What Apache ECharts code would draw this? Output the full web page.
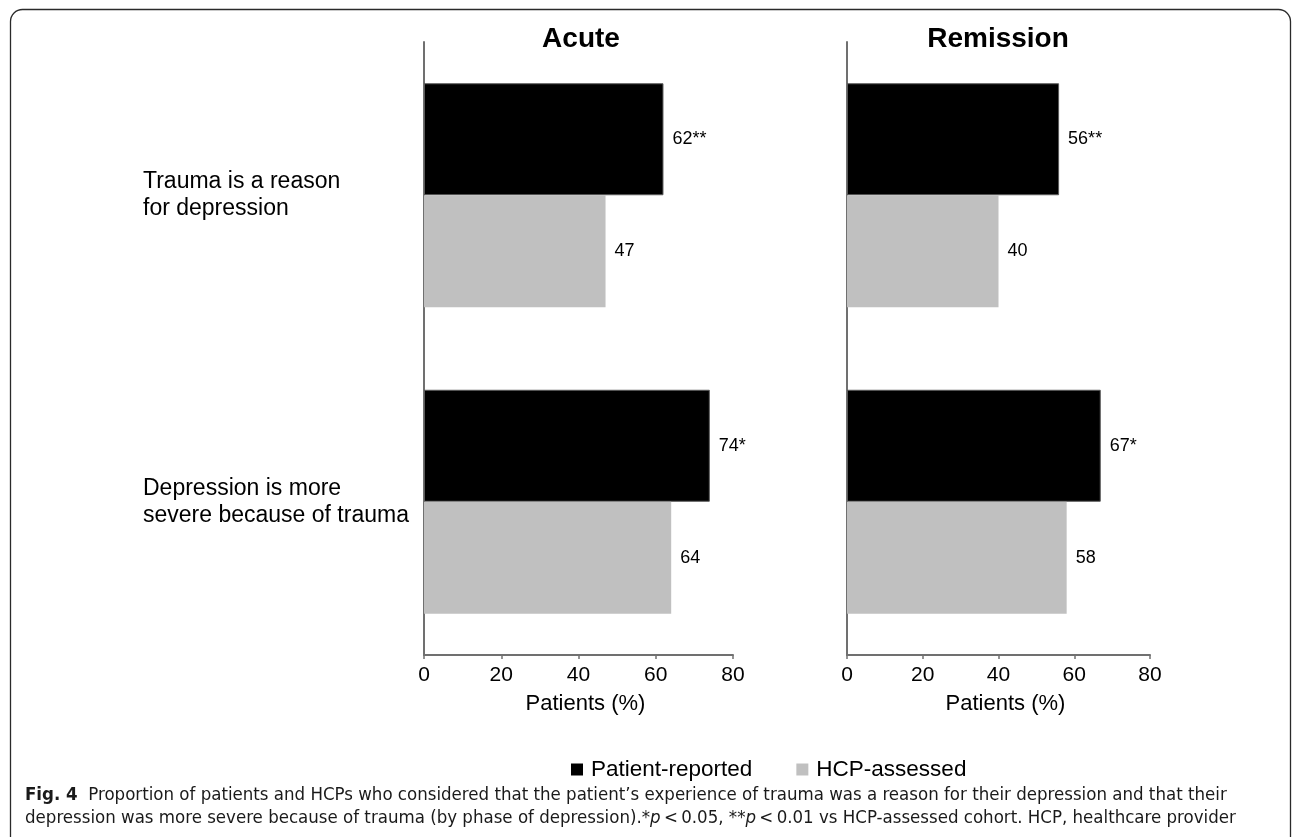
<!DOCTYPE html>
<html>
<head>
<meta charset="utf-8">
<script src="https://cdn.jsdelivr.net/npm/echarts@6/dist/echarts.min.js"></script>
<style>
  html, body { margin: 0; padding: 0; background: #fff; }
  #chart { width: 1293px; height: 837px; }
</style>
</head>
<body>
<div id="chart"></div>
<script>
// Survey results: share of respondents (%) by phase of depression
const categories = ['Trauma is a reason\nfor depression', 'Depression is more\nsevere because of trauma'];
const seriesNames = ['Patient-reported', 'HCP-assessed'];
const panelTitles = ['Acute', 'Remission'];

const acutePatient = [62, 74];
const acuteHcp = [47, 64];
const remissionPatient = [56, 67];
const remissionHcp = [40, 58];

// significance markers shown after the patient-reported values
const acuteSig = ['**', '*'];
const remissionSig = ['**', '*'];

const xTicks = [0, 20, 40, 60, 80];
const axisTitle = 'Patients (%)';

const FONT = '"Liberation Sans", Arial, Helvetica, sans-serif';
const CAPTION_FONT = '"Liberation Sans Narrow", "DejaVu Sans Condensed", "Liberation Sans", sans-serif';
const AXIS_COLOR = '#707070';
const BLACK = '#000000';
const GREY = '#c0c0c0';

const chart = echarts.init(document.getElementById('chart'), null, { renderer: 'canvas' });

function xAxisFor(gridIndex) {
  return {
    type: 'value',
    gridIndex: gridIndex,
    min: xTicks[0],
    max: xTicks[xTicks.length - 1],
    interval: xTicks[1] - xTicks[0],
    name: axisTitle,
    nameLocation: 'middle',
    nameGap: 38,
    nameTextStyle: { fontFamily: FONT, fontSize: 22, color: '#000', padding: [0, 0, 0, 14] },
    axisLine: { show: true, lineStyle: { color: AXIS_COLOR, width: 2 } },
    axisTick: { show: true, length: 4, lineStyle: { color: AXIS_COLOR, width: 1.5 } },
    axisLabel: { fontFamily: FONT, fontSize: 21, color: '#000', margin: 10 },
    splitLine: { show: false }
  };
}

function yAxisFor(gridIndex, showLabels) {
  return {
    type: 'category',
    gridIndex: gridIndex,
    data: categories,
    inverse: true,
    axisLine: { show: true, lineStyle: { color: AXIS_COLOR, width: 2 } },
    axisTick: { show: false },
    axisLabel: {
      show: showLabels,
      fontFamily: FONT,
      fontSize: 23,
      lineHeight: 27,
      color: '#000',
      align: 'left',
      margin: 281
    },
    splitLine: { show: false }
  };
}

function barSeries(name, data, color, axisIndex, sig, border) {
  return {
    name: name,
    type: 'bar',
    xAxisIndex: axisIndex,
    yAxisIndex: axisIndex,
    data: data,
    barWidth: 112,
    barGap: '0%',
    itemStyle: border
      ? { color: color, borderColor: '#5a5a5a', borderWidth: 1 }
      : { color: color },
    label: {
      show: true,
      position: 'right',
      distance: 9,
      fontFamily: FONT,
      fontSize: 18,
      color: '#000',
      formatter: function (p) { return p.value + (sig ? sig[p.dataIndex] : ''); }
    },
    emphasis: { disabled: true },
    animation: false
  };
}

const option = {
  backgroundColor: '#ffffff',
  animation: false,
  grid: [
    { left: 424, top: 42, width: 309, height: 613 },
    { left: 847, top: 42, width: 303, height: 613 }
  ],
  xAxis: [xAxisFor(0), xAxisFor(1)],
  yAxis: [yAxisFor(0, true), yAxisFor(1, false)],
  legend: {
    data: seriesNames.map(function (n) { return { name: n, icon: 'rect', itemStyle: { borderWidth: 0 } }; }),
    left: 571,
    top: 758,
    padding: 0,
    itemWidth: 12,
    itemHeight: 12,
    itemGap: 44,
    selectedMode: false,
    textStyle: { fontFamily: FONT, fontSize: 22.5, color: '#000', padding: [0, 0, 0, 3] }
  },
  series: [
    barSeries(seriesNames[0], acutePatient, BLACK, 0, acuteSig, true),
    barSeries(seriesNames[1], acuteHcp, GREY, 0, null, false),
    barSeries(seriesNames[0], remissionPatient, BLACK, 1, remissionSig, true),
    barSeries(seriesNames[1], remissionHcp, GREY, 1, null, false)
  ],
  graphic: [
    {
      type: 'rect',
      silent: true,
      z: -10,
      shape: { x: 10.5, y: 9.5, width: 1280, height: 845, r: 12 },
      style: { fill: 'none', stroke: '#2a2a2a', lineWidth: 1.3 }
    },
    {
      type: 'text',
      silent: true,
      x: 581,
      y: 39,
      style: {
        text: panelTitles[0],
        fontFamily: FONT,
        fontSize: 28,
        fontWeight: 'bold',
        fill: '#000',
        align: 'center',
        verticalAlign: 'middle'
      }
    },
    {
      type: 'text',
      silent: true,
      x: 998,
      y: 39,
      style: {
        text: panelTitles[1],
        fontFamily: FONT,
        fontSize: 28,
        fontWeight: 'bold',
        fill: '#000',
        align: 'center',
        verticalAlign: 'middle'
      }
    },
    {
      type: 'text',
      silent: true,
      x: 25,
      y: 784,
      style: {
        text: '{b|Fig. 4}  Proportion of patients and HCPs who considered that the patient\u2019s experience of trauma was a reason for their depression and that their\n' +
              'depression was more severe because of trauma (by phase of depression).*{i|p}\u2009<\u20090.05, **{i|p}\u2009<\u20090.01 vs HCP-assessed cohort. HCP, healthcare provider',
        fontFamily: CAPTION_FONT,
        fontSize: 18.5,
        lineHeight: 23,
        fill: '#1a1a1a',
        align: 'left',
        verticalAlign: 'top',
        rich: {
          b: { fontFamily: CAPTION_FONT, fontSize: 18.5, fontWeight: 'bold', fill: '#1a1a1a', lineHeight: 23 },
          i: { fontFamily: CAPTION_FONT, fontSize: 18.5, fontStyle: 'italic', fill: '#1a1a1a', lineHeight: 23 }
        }
      }
    }
  ]
};

chart.setOption(option);
</script>
</body>
</html>
